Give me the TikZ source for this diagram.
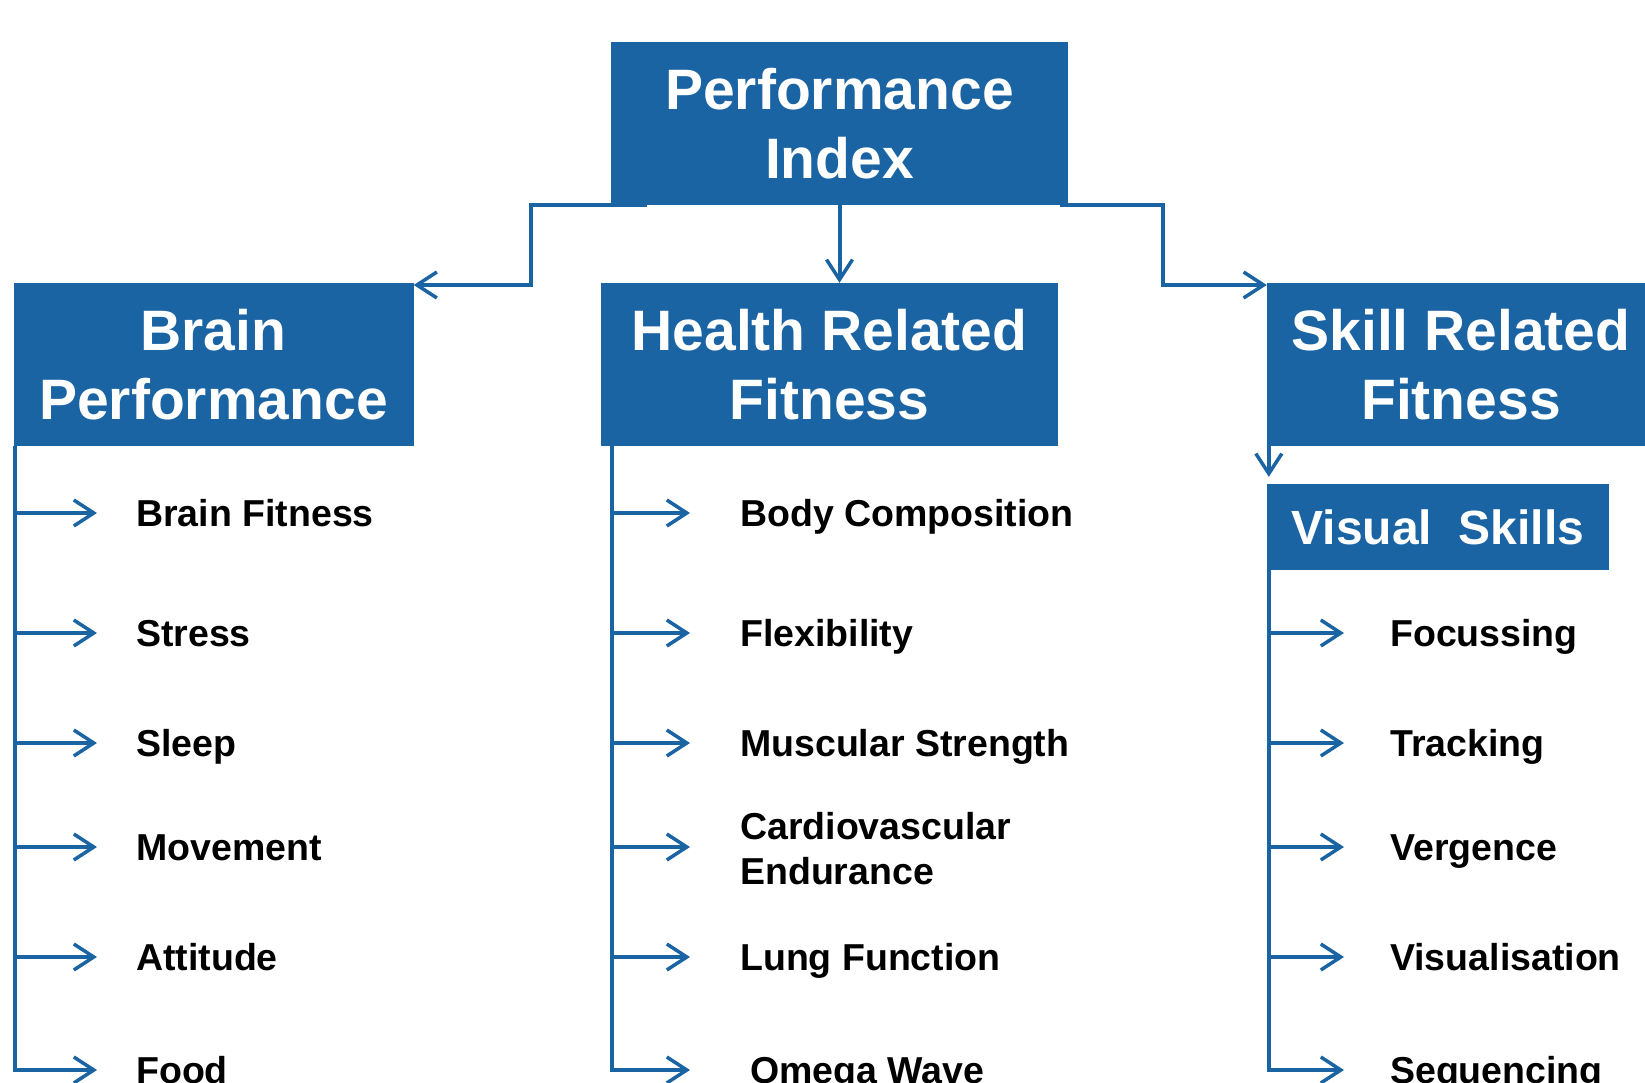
\documentclass[tikz,border=0pt]{standalone}
\usepackage{fontspec}
\setmainfont{Liberation Sans}
\usetikzlibrary{arrows.meta}
\definecolor{pblue}{RGB}{27,100,164}
\begin{document}
\begin{tikzpicture}[x=1pt,y=-1pt,
  box/.style={fill=pblue, text=white, font=\bfseries\fontsize{57}{69}\selectfont,
    align=center, inner sep=0pt, minimum height=163pt},
  item/.style={font=\bfseries\fontsize{37.5}{45}\selectfont, inner sep=0pt,
    text height=27pt, text depth=0pt, anchor=west},
  itemtwo/.style={font=\bfseries\fontsize{37.5}{45}\selectfont, inner sep=0pt,
    align=left, anchor=west},
  link/.style={draw=pblue, line width=4pt,
    -{Straight Barb[length=20pt,width=26pt,line width=3.5pt]}}
]
\clip (0,0) rectangle (1645,1083);

% headline boxes
\node[box, minimum width=457pt] (perf) at (839.5,123.5) {Performance\\Index};
\node[box, minimum width=400pt] (brain) at (213.5,364.5) {Brain\\Performance};
\node[box, minimum width=457pt] (health) at (829.5,364.5) {Health Related\\Fitness};
\node[box, minimum width=388pt] (skill) at (1461,364.5) {Skill Related\\Fitness};
\node[box, minimum width=342pt, minimum height=86pt,
      font=\bfseries\fontsize{48}{58}\selectfont] (visual) at (1438,527) {Visual\ \ Skills};

% connectors from the index
\coordinate (kneeL) at (531,285);
\coordinate (kneeR) at (1163,285);
\draw[link] ([xshift=36pt]perf.south west) -| (kneeL) -- (kneeL -| brain.east);
\draw[link] (perf.south) -- (perf.south |- health.north);
\draw[link] ([xshift=-8pt]perf.south east) -| (kneeR) -- (kneeR -| skill.west);
\draw[link] ([xshift=2pt]skill.south west) -- ([xshift=2pt,yshift=7pt]visual.north west);

% rails
\coordinate (railL) at ([xshift=2pt]brain.south west);
\coordinate (railM) at ([xshift=11pt]health.south west);
\coordinate (railR) at ([xshift=2pt]visual.south west);

% brain performance items
\foreach \n/\t/\y in {b1/Brain Fitness/513, b2/Stress/633, b3/Sleep/743,
                      b4/Movement/847, b5/Attitude/957}{
  \node[item] (\n) at (136,\y) {\t};
  \draw[link] (\n.west -| railL) -- ([xshift=-39pt]\n.west);
}
\node[item] (b6) at (136,1070) {Food};
\draw[link] (railL) |- ([xshift=-39pt]b6.west);

% health related fitness items
\foreach \n/\t/\y in {h1/Body Composition/513, h2/Flexibility/633,
                      h3/Muscular Strength/743, h5/Lung Function/957}{
  \node[item] (\n) at (740,\y) {\t};
  \draw[link] (\n.west -| railM) -- ([xshift=-50pt]\n.west);
}
\node[itemtwo] (h4) at (740,849) {Cardiovascular\\Endurance};
\draw[link] ([yshift=2pt]h4.west -| railM) -- ([shift={(-50pt,2pt)}]h4.west);
\node[item] (h6) at (750,1070) {Omega Wave};
\draw[link] (railM) |- ([xshift=-60pt]h6.west);

% visual skills items
\foreach \n/\t/\y in {s1/Focussing/633, s2/Tracking/743,
                      s3/Vergence/847, s4/Visualisation/957}{
  \node[item] (\n) at (1390,\y) {\t};
  \draw[link] (\n.west -| railR) -- ([xshift=-46pt]\n.west);
}
\node[item] (s5) at (1390,1070) {Sequencing};
\draw[link] (railR) |- ([xshift=-46pt]s5.west);
\end{tikzpicture}
\end{document}
